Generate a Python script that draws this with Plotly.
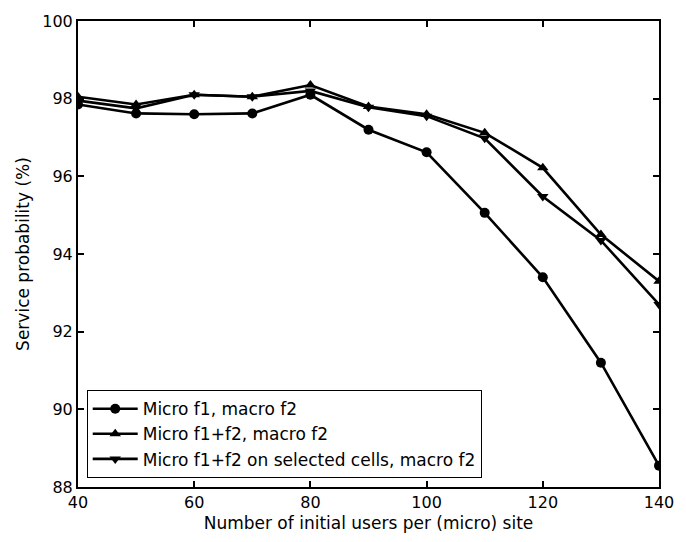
import plotly.graph_objects as go

# Number of initial users per (micro) site
users = [40, 50, 60, 70, 80, 90, 100, 110, 120, 130, 140]

# Service probability (%) for each configuration
micro_f1 = [97.85, 97.62, 97.6, 97.62, 98.1, 97.2, 96.62, 95.06, 93.4, 91.2, 88.55]
micro_f1f2 = [98.05, 97.85, 98.1, 98.05, 98.35, 97.8, 97.6, 97.12, 96.22, 94.5, 93.3]
micro_f1f2_sel = [97.95, 97.75, 98.1, 98.05, 98.2, 97.78, 97.55, 96.98, 95.48, 94.35, 92.7]

series_names = [
    "Micro f1, macro f2",
    "Micro f1+f2, macro f2",
    "Micro f1+f2 on selected cells, macro f2",
]
series_symbols = ["circle", "triangle-up", "triangle-down"]

x_ticks = [40, 60, 80, 100, 120, 140]
y_ticks = [88, 90, 92, 94, 96, 98, 100]

font_family = "DejaVu Sans, Liberation Sans, sans-serif"

fig = go.Figure()
for name, values, sym in zip(series_names, [micro_f1, micro_f1f2, micro_f1f2_sel], series_symbols):
    fig.add_trace(go.Scatter(
        x=users, y=values, name=name, mode="lines+markers",
        line=dict(color="black", width=2.6),
        marker=dict(symbol=sym, size=10, color="black"),
    ))

axis_common = dict(
    showline=True, linecolor="black", linewidth=2, mirror="ticks",
    ticks="inside", ticklen=6, tickwidth=1.5, tickcolor="black",
    showgrid=False, zeroline=False,
    tickfont=dict(family=font_family, size=16, color="black"),
)

fig.update_layout(
    width=686, height=542,
    margin=dict(l=78, r=17, t=21, b=54),
    paper_bgcolor="white", plot_bgcolor="white",
    font=dict(family=font_family, size=17, color="black"),
    xaxis=dict(
        range=[40, 140], tickvals=x_ticks,
        title=dict(text="Number of initial users per (micro) site",
                   font=dict(family=font_family, size=17), standoff=6),
        **axis_common,
    ),
    yaxis=dict(
        range=[88, 100], tickvals=y_ticks,
        title=dict(text="Service probability (%)",
                   font=dict(family=font_family, size=17), standoff=8),
        **axis_common,
    ),
    legend=dict(
        x=0.015, y=0.019, xanchor="left", yanchor="bottom",
        bgcolor="white", bordercolor="black", borderwidth=1,
        font=dict(family=font_family, size=17, color="black"),
        tracegroupgap=0, itemwidth=45,
    ),
)

fig.write_html("out.html")
